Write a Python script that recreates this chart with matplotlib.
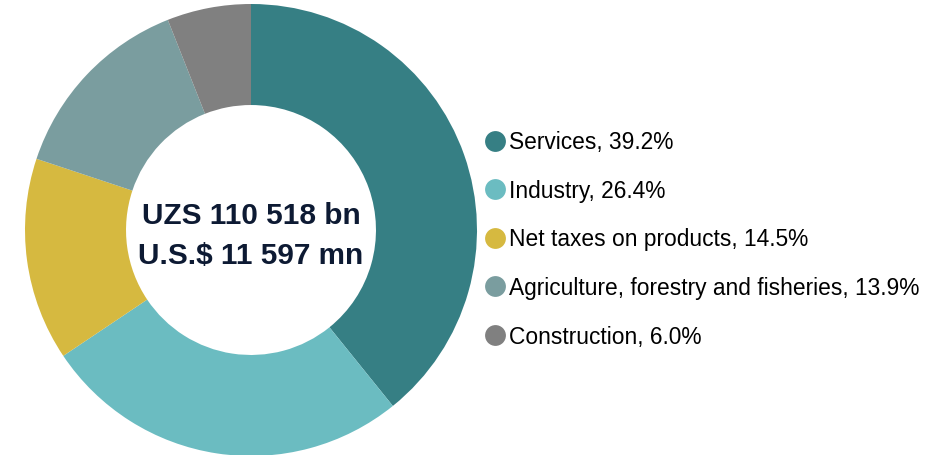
import matplotlib.pyplot as plt
from matplotlib.lines import Line2D

plt.rcParams['font.family'] = ['Liberation Sans', 'DejaVu Sans']

# GDP structure by sector
sectors = ['Services', 'Industry', 'Net taxes on products',
           'Agriculture, forestry and fisheries', 'Construction']
shares = [39.2, 26.4, 14.5, 13.9, 6.0]
colors = ['#367f84', '#6bbcc1', '#d6b940', '#7a9d9f', '#808080']
center_lines = ['UZS 110 518 bn', 'U.S.$ 11 597 mn']

fig = plt.figure(figsize=(9.36, 4.56), dpi=100)
ax = fig.add_axes([25 / 936, -1 / 456, 452 / 936, 452 / 456])

ax.pie(shares, colors=colors, startangle=90, counterclock=False,
       radius=1.0, wedgeprops=dict(width=0.447, linewidth=0))
ax.set_xlim(-1, 1)
ax.set_ylim(-1, 1)
ax.set_aspect('equal')
ax.axis('off')

ax.text(0, 0.065, center_lines[0], ha='center', va='center',
        fontsize=21.4, fontweight='bold', color='#0d1a33')
ax.text(0, -0.112, center_lines[1], ha='center', va='center',
        fontsize=21.4, fontweight='bold', color='#0d1a33')

handles = [Line2D([], [], marker='o', linestyle='', markersize=15,
                  markerfacecolor=c, markeredgewidth=0) for c in colors]
labels = [f'{s}, {v:.1f}%' for s, v in zip(sectors, shares)]
fig.legend(handles, labels, loc='center left',
           bbox_to_anchor=(478 / 936, 1 - 240 / 456), frameon=False,
           fontsize=16.4, handletextpad=-0.15, labelspacing=1.12,
           handlelength=1.5, borderaxespad=0, borderpad=0)

fig.savefig('out.png', dpi=100, facecolor='white')
